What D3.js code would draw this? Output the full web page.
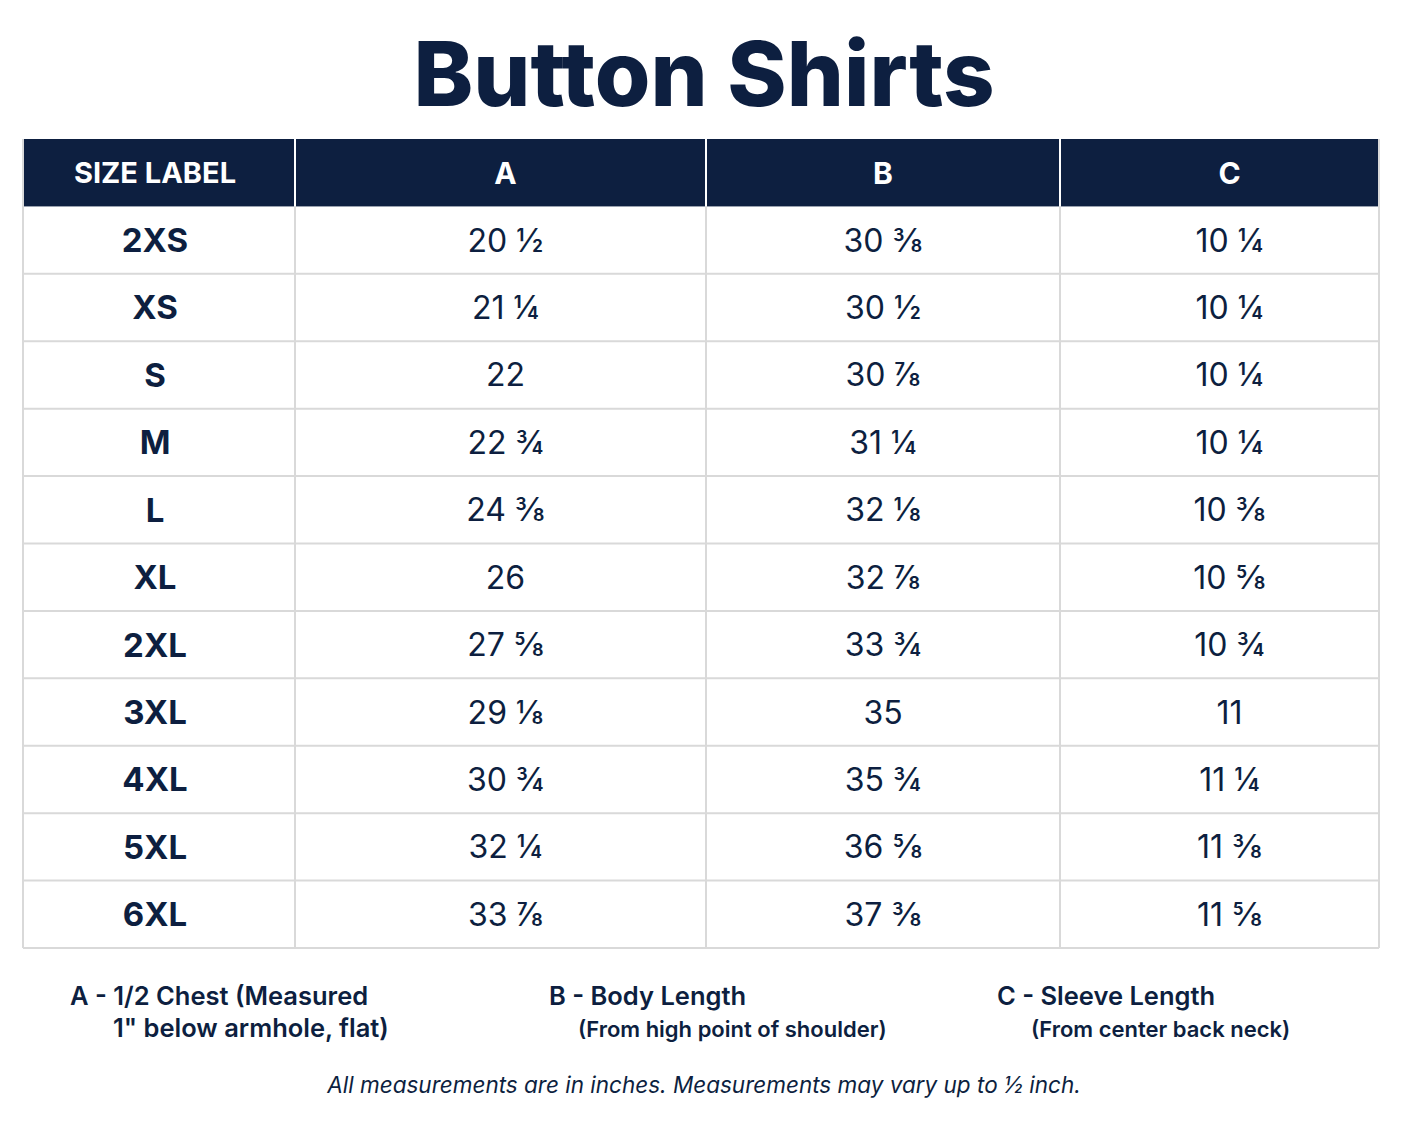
<!DOCTYPE html>
<html><head><meta charset="utf-8">
<script src="https://cdn.jsdelivr.net/npm/d3@7/dist/d3.min.js"></script>
<style>body{margin:0;background:#fff}</style></head>
<body><svg id="c" width="1402" height="1122"></svg>
<script>
const headers = ["SIZE LABEL","A","B","C"];
const sizes = ["2XS","XS","S","M","L","XL","2XL","3XL","4XL","5XL","6XL"];
const colA = ["20 ½","21 ¼","22","22 ¾","24 ⅜","26","27 ⅝","29 ⅛","30 ¾","32 ¼","33 ⅞"];
const colB = ["30 ⅜","30 ½","30 ⅞","31 ¼","32 ⅛","32 ⅞","33 ¾","35","35 ¾","36 ⅝","37 ⅜"];
const colC = ["10 ¼","10 ¼","10 ¼","10 ¼","10 ⅜","10 ⅝","10 ¾","11","11 ¼","11 ⅜","11 ⅝"];
const notes = [["A - 1/2 Chest (Measured","1\" below armhole, flat)"],["B - Body Length","(From high point of shoulder)"],["C - Sleeve Length","(From center back neck)"]];
const footer = "All measurements are in inches. Measurements may vary up to ½ inch.";

const navy="#0d1f40", svg=d3.select("#c"), F="Inter, Roboto, sans-serif";
const colEdges=[23,295,706,1060,1379];
const centerShift=[-4,5,0,10];
const y=d3.scaleBand().domain(["h",...sizes]).range([139,948]);
const cols=[sizes,colA,colB,colC];

svg.append("text").attr("x",704).attr("y",106).attr("text-anchor","middle")
 .attr("font-family",F).attr("font-weight",800).attr("font-size",90).attr("fill",navy).text("Button Shirts");

svg.append("rect").attr("x",23).attr("y",y("h")).attr("width",1356).attr("height",y.bandwidth()).attr("fill",navy);
headers.forEach((h,i)=>{
  const cx=(colEdges[i]+colEdges[i+1])/2+centerShift[i];
  svg.append("text").attr("x",cx).attr("y",y("h")+y.bandwidth()/2).attr("dy","0.36em").attr("text-anchor","middle")
   .attr("font-family",F).attr("font-weight",700).attr("font-size",i==0?29:30).attr("fill","#fff").text(h);
  sizes.forEach((s,r)=>{
    svg.append("text").attr("x",cx).attr("y",y(s)+y.bandwidth()/2).attr("dy","0.36em").attr("text-anchor","middle")
     .attr("font-family",F).attr("font-weight",i==0?700:400).attr("font-size",i==0?33:32).attr("fill",navy).text(cols[i][r]);
  });
});
sizes.forEach(s=>svg.append("line").attr("x1",23).attr("x2",1379).attr("y1",y(s)+y.bandwidth()).attr("y2",y(s)+y.bandwidth()).attr("stroke","#d9d9d9").attr("stroke-width",2));
colEdges.forEach((e,i)=>{
  svg.append("line").attr("x1",e).attr("x2",e).attr("y1",i==0||i==4?y("h"):y(sizes[0])).attr("y2",948).attr("stroke","#d9d9d9").attr("stroke-width",2);
  if(i>0&&i<4) svg.append("line").attr("x1",e).attr("x2",e).attr("y1",139).attr("y2",y(sizes[0])).attr("stroke","#fff").attr("stroke-width",2);
});

const nx=[[70,113],[549,578],[997,1031]];
notes.forEach((n,i)=>{
  svg.append("text").attr("x",nx[i][0]).attr("y",1005).attr("font-family",F).attr("font-weight",600).attr("font-size",25.5).attr("fill",navy).text(n[0]);
  svg.append("text").attr("x",nx[i][1]).attr("y",1037).attr("font-family",F).attr("font-weight",600).attr("font-size",i==0?25.5:22).attr("fill",navy).text(n[1]);
});
svg.append("text").attr("x",704).attr("y",1093).attr("text-anchor","middle").attr("font-family",F).attr("font-style","italic").attr("font-size",22.5).attr("fill",navy).text(footer);
</script></body></html>
